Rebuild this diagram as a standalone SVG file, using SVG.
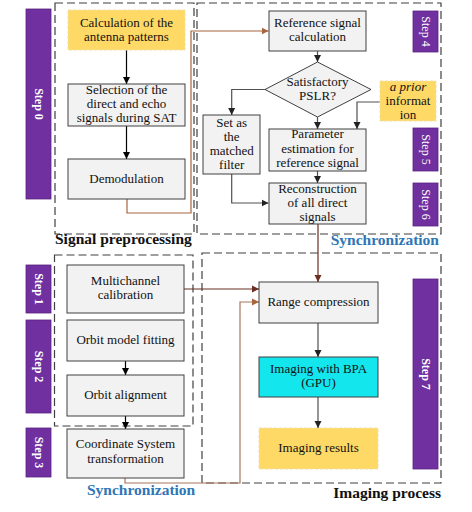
<svg xmlns="http://www.w3.org/2000/svg" width="472" height="512" viewBox="0 0 472 512" font-family="'Liberation Serif', 'DejaVu Serif', serif">
<style>
text{font-family:'Liberation Serif','DejaVu Serif',serif;font-size:13px;fill:#111;text-anchor:middle}
.box{fill:#F2F2F2;stroke:#404040;stroke-width:1}
.yel{fill:#FFD966;stroke:#EEDFA8;stroke-width:1;stroke-dasharray:3 2}
.cyan{fill:#14E6EE;stroke:#404040;stroke-width:1}
.step{fill:#7030A0;stroke:#5A2580;stroke-width:0.8}
.st{fill:#fff;font-size:12px}
.stb{fill:#fff;font-size:12px;font-weight:bold}
.grp{fill:none;stroke:#404040;stroke-width:1.2;stroke-dasharray:8 4}
.lbl{font-size:15.5px;font-weight:bold;text-anchor:start}
.blue{fill:#2E75B6}
.ln{fill:none;stroke:#000;stroke-width:1.2}
.lg{fill:none;stroke:#505050;stroke-width:1.2}
.br1{fill:none;stroke:#A8643C;stroke-width:1.2}
.br2{fill:none;stroke:#6B2E22;stroke-width:1.2}
.br3{fill:none;stroke:#A6765A;stroke-width:1.2}
</style>
<defs>
<marker id="ak" markerWidth="8" markerHeight="8" refX="7" refY="4" orient="auto" markerUnits="userSpaceOnUse"><path d="M0,0.5 L7,4 L0,7.5 Z" fill="#000"/></marker>
<marker id="ag" markerWidth="8" markerHeight="8" refX="7" refY="4" orient="auto" markerUnits="userSpaceOnUse"><path d="M0,0.5 L7,4 L0,7.5 Z" fill="#222"/></marker>
<marker id="ab1" markerWidth="8" markerHeight="8" refX="7" refY="4" orient="auto" markerUnits="userSpaceOnUse"><path d="M0,0.5 L7,4 L0,7.5 Z" fill="#A8643C"/></marker>
<marker id="ab2" markerWidth="8" markerHeight="8" refX="7" refY="4" orient="auto" markerUnits="userSpaceOnUse"><path d="M0,0.5 L7,4 L0,7.5 Z" fill="#6B2E22"/></marker>
<marker id="ab3" markerWidth="8" markerHeight="8" refX="7" refY="4" orient="auto" markerUnits="userSpaceOnUse"><path d="M0,0.5 L7,4 L0,7.5 Z" fill="#A8643C"/></marker>
</defs>
<rect width="472" height="512" fill="#fff"/>

<g id="groups">
<rect class="grp" x="55" y="3" width="139" height="231"/>
<rect class="grp" x="197" y="3" width="244" height="231"/>
<rect class="grp" x="54.5" y="255" width="138.5" height="171"/>
<rect class="grp" x="202" y="253" width="239" height="230"/>
<text class="lbl" x="55" y="244">Signal preprocessing</text>
<text class="lbl blue" x="439" y="245" style="text-anchor:end">Synchronization</text>
<text class="lbl blue" x="87" y="495">Synchronization</text>
<text class="lbl" x="441" y="498" style="text-anchor:end">Imaging process</text>
</g>

<g id="steps">
<rect class="step" x="26" y="9" width="25" height="190"/>
<text class="stb" transform="translate(38.5,104) rotate(90)" dy="4">Step 0</text>
<rect class="step" x="413" y="11" width="25" height="41"/>
<text class="st" transform="translate(425.5,31.5) rotate(90)" dy="4">Step 4</text>
<rect class="step" x="413" y="128" width="25" height="43"/>
<text class="st" transform="translate(425.5,149.5) rotate(90)" dy="4">Step 5</text>
<rect class="step" x="413" y="183" width="25" height="43"/>
<text class="st" transform="translate(425.5,204.5) rotate(90)" dy="4">Step 6</text>
<rect class="step" x="26" y="265" width="25" height="48"/>
<text class="stb" transform="translate(38.5,289) rotate(90)" dy="4">Step 1</text>
<rect class="step" x="26" y="320" width="25" height="93"/>
<text class="stb" transform="translate(38.5,366.5) rotate(90)" dy="4">Step 2</text>
<rect class="step" x="26" y="428" width="25" height="49"/>
<text class="stb" transform="translate(38.5,452.5) rotate(90)" dy="4">Step 3</text>
<rect class="step" x="413" y="279" width="25" height="190"/>
<text class="stb" transform="translate(425.5,374) rotate(90)" dy="4">Step 7</text>
</g>

<g id="connectors">
<line class="ln" x1="126.5" y1="50" x2="126.5" y2="84" marker-end="url(#ak)"/>
<line class="ln" x1="126.5" y1="126" x2="126.5" y2="159" marker-end="url(#ak)"/>
<polyline class="br1" points="127,199 127,213 191,213 191,31 268.5,31" marker-end="url(#ab1)"/>
<line class="lg" x1="317.5" y1="51" x2="317.5" y2="62" marker-end="url(#ag)"/>
<polyline class="lg" points="265,89.5 231.7,89.5 231.7,115" marker-end="url(#ag)"/>
<line class="lg" x1="317.5" y1="117" x2="317.5" y2="129" marker-end="url(#ag)"/>
<polyline class="lg" points="380,102 357,102 357,129" marker-end="url(#ag)"/>
<line class="lg" x1="317.5" y1="171" x2="317.5" y2="183" marker-end="url(#ag)"/>
<polyline class="lg" points="231.7,174 231.7,203 268.5,203" marker-end="url(#ag)"/>
<line class="br2" x1="318" y1="224" x2="318" y2="282" marker-end="url(#ab2)"/>
<line class="br2" x1="184" y1="289" x2="259" y2="289" marker-end="url(#ab2)"/>
<polyline class="br3" points="125,478 125,483 240,483 240,302 259,302" marker-end="url(#ab3)"/>
<line class="ln" x1="125.5" y1="361" x2="125.5" y2="375" marker-end="url(#ak)"/>
<line class="ln" x1="125.5" y1="416" x2="125.5" y2="429" marker-end="url(#ak)"/>
<line class="lg" x1="318" y1="323" x2="318" y2="357" marker-end="url(#ag)"/>
<line class="lg" x1="318" y1="397" x2="318" y2="428" marker-end="url(#ag)"/>
</g>

<g id="n-antenna">
<rect class="yel" x="68" y="10" width="117" height="40"/>
<text x="126.5" y="27">Calculation of the</text>
<text x="126.5" y="41">antenna patterns</text>
</g>
<g id="n-selection">
<rect class="box" x="68" y="84" width="117" height="42"/>
<text x="126.5" y="94">Selection of  the</text>
<text x="126.5" y="108">direct and echo</text>
<text x="126.5" y="122">signals during SAT</text>
</g>
<g id="n-demod">
<rect class="box" x="68" y="159" width="117" height="40"/>
<text x="126.5" y="183">Demodulation</text>
</g>
<g id="n-refsig">
<rect class="box" x="269" y="11" width="97" height="40"/>
<text x="317.5" y="27">Reference signal</text>
<text x="317.5" y="41">calculation</text>
</g>
<g id="n-pslr">
<polygon points="317.5,62 371,89.5 317.5,117 265,89.5" fill="#F2F2F2" stroke="#404040" stroke-width="1"/>
<text x="317.5" y="86">Satisfactory</text>
<text x="317.5" y="100">PSLR?</text>
</g>
<g id="n-prior">
<rect class="yel" x="380" y="81" width="56" height="40"/>
<text x="408" y="91" font-style="italic">a prior</text>
<text x="408" y="105">informat</text>
<text x="408" y="119">ion</text>
</g>
<g id="n-param">
<rect class="box" x="269" y="129" width="97" height="42"/>
<text x="317.5" y="138">Parameter</text>
<text x="317.5" y="153">estimation for</text>
<text x="317.5" y="167">reference signal</text>
</g>
<g id="n-set">
<rect class="box" x="203" y="115" width="57" height="59"/>
<text x="231.7" y="127">Set as</text>
<text x="231.7" y="141">the</text>
<text x="231.7" y="155">matched</text>
<text x="231.7" y="169">filter</text>
</g>
<g id="n-recon">
<rect class="box" x="269" y="183" width="97" height="41"/>
<text x="317.5" y="193">Reconstruction</text>
<text x="317.5" y="207">of all direct</text>
<text x="317.5" y="221">signals</text>
</g>
<g id="n-multi">
<rect class="box" x="67" y="265" width="117" height="48"/>
<text x="125.5" y="285">Multichannel</text>
<text x="125.5" y="299">calibration</text>
</g>
<g id="n-orbitfit">
<rect class="box" x="67" y="320" width="117" height="41"/>
<text x="125.5" y="344">Orbit model fitting</text>
</g>
<g id="n-orbitalign">
<rect class="box" x="67" y="375" width="117" height="41"/>
<text x="125.5" y="399">Orbit alignment</text>
</g>
<g id="n-coord">
<rect class="box" x="67" y="429" width="117" height="49"/>
<text x="125.5" y="448">Coordinate System</text>
<text x="125.5" y="463">transformation</text>
</g>
<g id="n-range">
<rect class="box" x="259" y="282" width="119" height="41"/>
<text x="318.5" y="306">Range compression</text>
</g>
<g id="n-bpa">
<rect class="cyan" x="259" y="357" width="119" height="40"/>
<text x="318.5" y="373">Imaging with BPA</text>
<text x="318.5" y="387">(GPU)</text>
</g>
<g id="n-results">
<rect class="yel" x="259" y="428" width="119" height="41"/>
<text x="318.5" y="452">Imaging results</text>
</g>
</svg>
